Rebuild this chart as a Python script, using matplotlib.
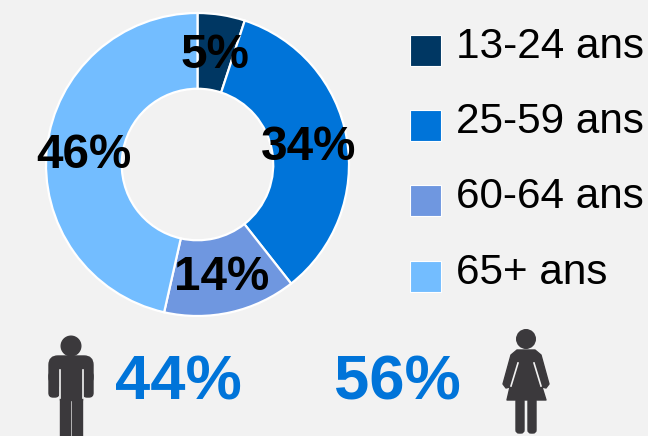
import matplotlib.pyplot as plt
from matplotlib.patches import Circle, FancyBboxPatch, Polygon, Rectangle

W, H = 648, 436
BG = "#f2f2f2"
ICON = "#3b393c"

age_groups = ["13-24 ans", "25-59 ans", "60-64 ans", "65+ ans"]
age_share = [5, 34, 14, 46]
age_colors = ["#003763", "#0074d9", "#6f97e0", "#73bdff"]
sex_share = ["44%", "56%"]

plt.rcParams["font.family"] = ["Liberation Sans", "DejaVu Sans"]

fig = plt.figure(figsize=(W / 100, H / 100), dpi=100, facecolor=BG)

# overlay in pixel coords for legend and icons
bg = fig.add_axes([0, 0, 1, 1])
bg.set_xlim(0, W)
bg.set_ylim(H, 0)
bg.axis("off")

# donut
ax = fig.add_axes([46 / W, (H - 316) / H, 303 / W, 303 / H])
ax.pie(age_share, colors=age_colors, startangle=90, counterclock=False,
       radius=1, wedgeprops=dict(width=0.5, edgecolor="white", linewidth=1.6))
ax.set_xlim(-1, 1)
ax.set_ylim(-1, 1)
ax.axis("off")

label_pos = [(215, 55), (309, 147), (222, 277), (84, 155)]
for val, (x, y) in zip(age_share, label_pos):
    bg.text(x, y, f"{val}%", fontsize=34.3, fontweight="bold", color="black",
            ha="center", va="center", zorder=5)
bg.set_zorder(3)
bg.patch.set_visible(False)

# legend
legend_y = [50, 125, 200, 276]
for name, col, y in zip(age_groups, age_colors, legend_y):
    bg.add_patch(Rectangle((410, y - 15), 31, 31, facecolor=col, edgecolor="white", linewidth=0.8))
    bg.text(456, y - 3, name, fontsize=30.4, color="black", ha="left", va="center")

# bottom percentages
bg.text(178, 383, sex_share[0], fontsize=45.5, fontweight="bold", color="#0074d9", ha="center", va="center")
bg.text(397, 383, sex_share[1], fontsize=45.5, fontweight="bold", color="#0074d9", ha="center", va="center")

# man icon
bg.add_patch(Circle((71, 346), 9.8, color=ICON))
bg.add_patch(FancyBboxPatch((49, 356), 44, 30, boxstyle="round,pad=0,rounding_size=9", color=ICON))
bg.add_patch(FancyBboxPatch((49, 372), 10, 25, boxstyle="round,pad=0,rounding_size=4", color=ICON))
bg.add_patch(FancyBboxPatch((83, 372), 10, 25, boxstyle="round,pad=0,rounding_size=4", color=ICON))
bg.add_patch(Rectangle((60, 370), 22, 30, color=ICON))
bg.add_patch(Rectangle((60, 396), 10, 40, color=ICON))
bg.add_patch(Rectangle((72, 396), 10, 40, color=ICON))
bg.plot([59.5, 59.5], [370, 398], color=BG, lw=1.2)
bg.plot([82.5, 82.5], [370, 398], color=BG, lw=1.2)

# woman icon
bg.add_patch(Circle((526, 339), 9.3, color=ICON))
bg.add_patch(Polygon([(517, 350), (535, 350), (541, 355), (549, 384), (546, 388), (542, 387),
                      (546, 400), (507, 400), (510, 387), (506, 388), (503, 384), (511, 355)],
                     closed=True, color=ICON, joinstyle="round"))
bg.plot([518, 511], [363, 386], color=BG, lw=1.2)
bg.plot([534, 541], [363, 386], color=BG, lw=1.2)
bg.add_patch(FancyBboxPatch((516, 398), 8, 35, boxstyle="round,pad=0,rounding_size=3", color=ICON))
bg.add_patch(FancyBboxPatch((528, 398), 8, 35, boxstyle="round,pad=0,rounding_size=3", color=ICON))
bg.set_xlim(0, W)
bg.set_ylim(H, 0)

fig.savefig("out.png", dpi=100, facecolor=BG)
